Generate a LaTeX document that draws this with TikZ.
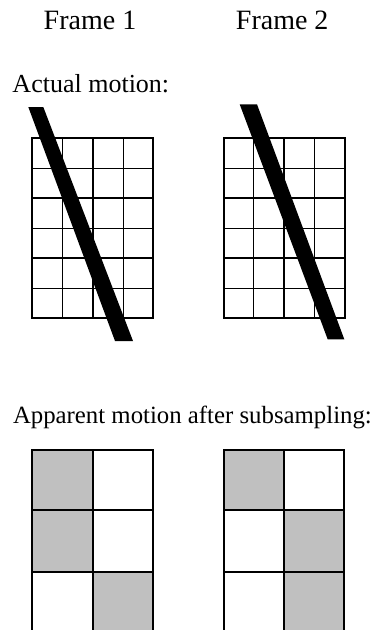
\documentclass[tikz,border=0pt]{standalone}
\usepackage{fontspec}
\setmainfont{Liberation Serif}
\definecolor{cellgray}{RGB}{192,192,192}
\tikzset{
  thickln/.style={line width=1.8pt, black},
  thinln/.style={line width=1.0pt, black},
  lbl/.style={inner sep=0pt, outer sep=0pt},
  barfill/.style={fill=black, draw=none},
  graycell/.style={fill=cellgray, draw=none},
}
\begin{document}
\begin{tikzpicture}[x=1pt, y=-1pt]
\useasboundingbox (0,0) rectangle (374,630);
\fill[white] (0,0) rectangle (374,630);

% labels
\node[lbl, anchor=base, font=\fontsize{28}{32}\selectfont] (f1) at (90,29) {Frame 1};
\node[lbl, anchor=base, font=\fontsize{28}{32}\selectfont] (f2) at (282.2,29) {Frame 2};
\node[lbl, anchor=base west, font=\fontsize{26}{30}\selectfont] (actual) at (12.5,92.7) {Actual motion:};
\node[lbl, anchor=base west, font=\fontsize{24.8}{30}\selectfont] (apparent) at (13,423.3) {Apparent motion after subsampling:};

% top grids
\foreach \gx in {32.3, 223.7} {
  \begin{scope}[shift={(\gx,138.3)}]
    \foreach \i in {1,3} \draw[thinln] (\i*30.25,0) -- (\i*30.25,180);
    \foreach \j in {1,3,5} \draw[thinln] (0,\j*30) -- (121,\j*30);
    \draw[thickln] (60.5,0) -- (60.5,180);
    \foreach \j in {2,4} \draw[thickln] (0,\j*30) -- (121,\j*30);
    \draw[thickln] (0,0) rectangle (121,180);
  \end{scope}
}

% bars
\fill[barfill] (28.3,107) -- (43.3,107) -- (133,341) -- (115,341) -- cycle;
\fill[barfill] (239.7,104.3) -- (257,104.3) -- (344.3,339.3) -- (327.7,339.3) -- cycle;

% bottom grids
\begin{scope}[shift={(32.3,450)}]
  \fill[graycell] (0,0) rectangle (60.5,60);
  \fill[graycell] (0,60) rectangle (60.5,121.7);
  \fill[graycell] (60.5,121.7) rectangle (121,180);
\end{scope}
\begin{scope}[shift={(223.7,450)}]
  \fill[graycell] (0,0) rectangle (60.6,60);
  \fill[graycell] (60.6,60) rectangle (120.6,121.7);
  \fill[graycell] (60.6,121.7) rectangle (120.6,180);
\end{scope}
\foreach \gx/\gm/\gr in {32.3/92.8/153.3, 223.7/284.3/344.3} {
  \draw[thickln] (\gx,632) -- (\gx,450) -- (\gr,450) -- (\gr,632);
  \draw[thickln] (\gm,450) -- (\gm,632);
  \draw[thickln] (\gx,510) -- (\gr,510);
  \draw[thickln] (\gx,571.7) -- (\gr,571.7);
}
\end{tikzpicture}
\end{document}
